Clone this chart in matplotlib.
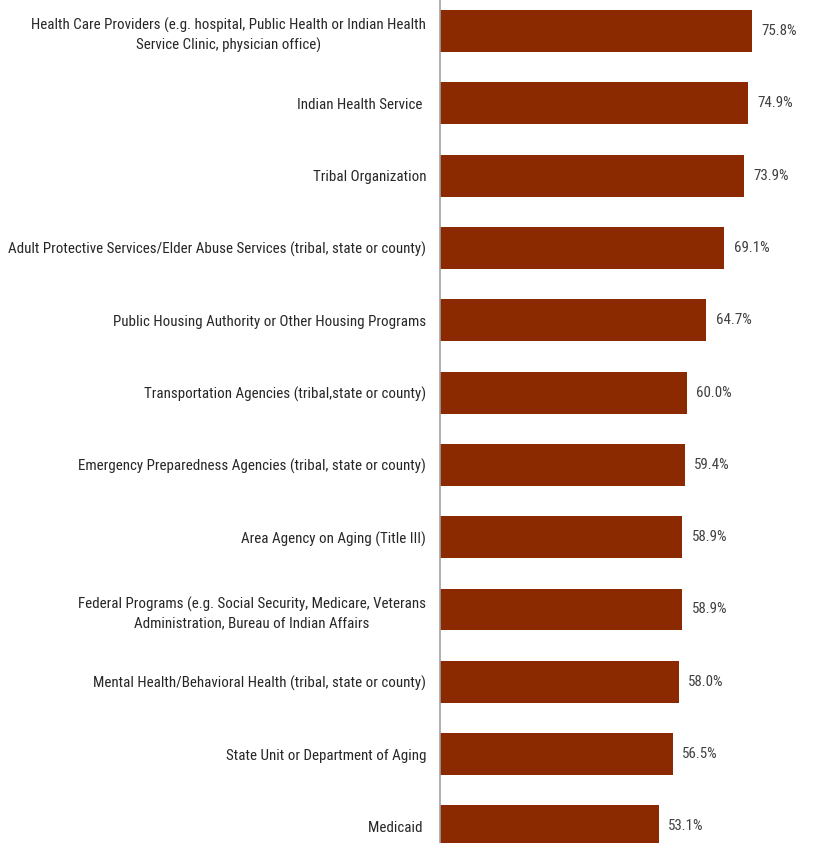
import matplotlib
matplotlib.use("Agg")
import matplotlib.pyplot as plt
from matplotlib import font_manager
from matplotlib.font_manager import FontProperties
import os

categories = [
    "Health Care Providers (e.g. hospital, Public Health or Indian Health\nService Clinic, physician office)",
    "Indian Health Service ",
    "Tribal Organization",
    "Adult Protective Services/Elder Abuse Services (tribal, state or county)",
    "Public Housing Authority or Other Housing Programs",
    "Transportation Agencies (tribal,state or county)",
    "Emergency Preparedness Agencies (tribal, state or county)",
    "Area Agency on Aging (Title III)",
    "Federal Programs (e.g. Social Security, Medicare, Veterans\nAdministration, Bureau of Indian Affairs",
    "Mental Health/Behavioral Health (tribal, state or county)",
    "State Unit or Department of Aging",
    "Medicaid ",
]
values = [75.8, 74.9, 73.9, 69.1, 64.7, 60.0, 59.4, 58.9, 58.9, 58.0, 56.5, 53.1]
value_labels = [f"{v:.1f}%" for v in values]

# find a condensed / narrow regular font if available
def pick_font():
    prefs = ["liberationsansnarrow-regular", "arialnarrow", "robotocondensed-regular",
             "notosans-condensed.", "notosans-condensed-regular", "dejavusanscondensed.",
             "opensans_condensed-regular", "opensans-condensed-regular", "notosanscondensed-regular"]
    files = [f.fname for f in font_manager.fontManager.ttflist]
    low = {os.path.basename(p).lower(): p for p in files}
    for pref in prefs:
        for b, p in low.items():
            if b.startswith(pref) or pref in b:
                return p
    for b, p in low.items():
        if ("narrow" in b or "condensed" in b) and not any(k in b for k in ["bold", "italic", "oblique", "light", "thin", "black", "medium", "semi", "extra"]):
            return p
    return None

fpath = pick_font()
if fpath:
    base_fp = FontProperties(fname=fpath)
else:
    base_fp = FontProperties(family="Liberation Sans")

fig = plt.figure(figsize=(8.13, 8.43), dpi=100)
renderer = fig.canvas.get_renderer()

# fit font size so the widest one-line label is ~414 px wide
probe = fig.text(0, 0, categories[3], fontproperties=base_fp, fontsize=10)
w10 = probe.get_window_extent(renderer).width
probe.remove()
size = 10 * 412 / w10
size = min(size, 13.0)
fp = base_fp.copy()
fp.set_size(size)

ax = fig.add_axes([440/813, 0, 1 - 440/813, 1])

y = list(range(len(categories)))
ax.barh(y, values, height=0.58, color="#8B2A00")
ax.set_xlim(0, 90.6)
ax.set_ylim(11.23, -0.43)

for yi, v, lab in zip(y, values, value_labels):
    ax.text(v + 2.3, yi, lab, va="center", ha="left", fontproperties=fp, color="#404040")

ax.set_yticks(y)
ax.set_yticklabels(categories, fontproperties=fp, color="#262626", multialignment="center",
                   linespacing=1.45)
ax.tick_params(axis="y", length=0, pad=10)
ax.set_xticks([])
for s in ["top", "right", "bottom"]:
    ax.spines[s].set_visible(False)
ax.spines["left"].set_color("#a0a0a0")
ax.spines["left"].set_linewidth(1.2)

fig.savefig("out.png", dpi=100)
